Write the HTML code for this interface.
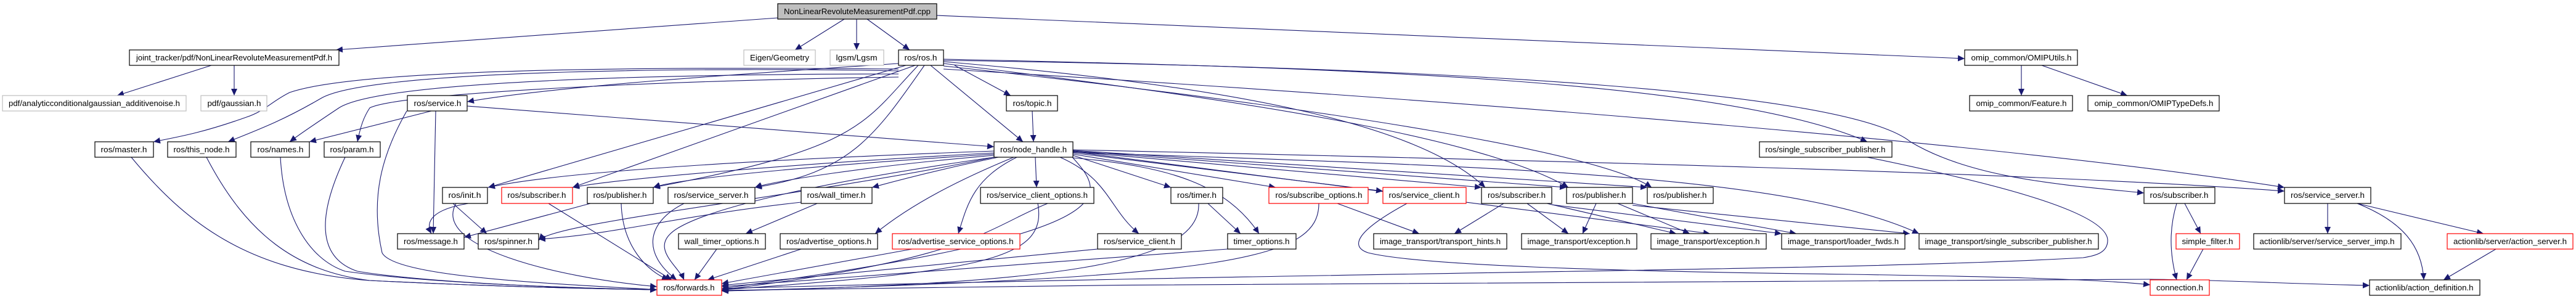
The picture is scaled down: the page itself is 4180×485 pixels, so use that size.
<!DOCTYPE html>
<html><head><meta charset="utf-8"><style>
html,body{margin:0;padding:0;background:#fff;}
svg{display:block;}
text{font-family:"Liberation Sans",Helvetica,sans-serif;font-size:13px;fill:#000;}
.n{fill:#fff;stroke:#000;stroke-width:1.2;}
.g{fill:#fff;stroke:#bfbfbf;stroke-width:1.2;}
.r{fill:#fff;stroke:#ff0000;stroke-width:1.2;}
.t{fill:#bfbfbf;stroke:#000;stroke-width:1.2;}
path.e{fill:none;stroke:#191970;stroke-width:1.1;marker-end:url(#a);}
</style></head><body>
<svg width="4180" height="485" viewBox="0 0 4180 485" xmlns="http://www.w3.org/2000/svg">
<defs><marker id="a" markerUnits="userSpaceOnUse" markerWidth="12" markerHeight="10" refX="11" refY="5" orient="auto"><path d="M0,0 L11,5 L0,10 z" fill="#191970"/></marker></defs>

<g>
<path class="e" d="M1262,29 L545,81"/>
<path class="e" d="M1370,31 L1290,81"/>
<path class="e" d="M1390,31 L1390,81"/>
<path class="e" d="M1407,31 L1476,81"/>
<path class="e" d="M1520,25 L3188,95"/>
<path class="e" d="M343,106 L190,155"/>
<path class="e" d="M380,106 L380,155"/>
<path class="e" d="M3280,106 L3280,155"/>
<path class="e" d="M3313,106 L3452,155"/>
<path class="e" d="M1458,103 C1200,120 900,140 758,165"/>
<path class="e" d="M1458,112 C1200,110 600,105 470,150 C440,165 430,180 400,190 C330,215 290,222 249,230"/>
<path class="e" d="M1458,115 C1200,110 600,110 520,160 C460,195 420,210 370,230"/>
<path class="e" d="M1458,120 C1100,120 620,130 550,175 C520,195 490,215 470,230"/>
<path class="e" d="M1458,125 C1100,130 650,150 600,175 C590,190 585,205 580,230"/>
<path class="e" d="M1549,106 L1640,155"/>
<path class="e" d="M1510,106 L1660,230"/>
<path class="e" d="M1470,106 L792,304"/>
<path class="e" d="M1485,106 L929,304"/>
<path class="e" d="M1490,106 C1400,200 1400,240 1060,304"/>
<path class="e" d="M1500,106 C1420,220 1380,280 1225,304"/>
<path class="e" d="M1531,96 C2200,110 2800,130 3030,230"/>
<path class="e" d="M1531,100 C2000,140 2300,200 2410,304"/>
<path class="e" d="M1531,103 C2000,160 2400,220 2545,304"/>
<path class="e" d="M1531,107 C2200,180 2600,250 2680,304"/>
<path class="e" d="M1531,98 C2400,110 3000,150 3100,230 C3200,290 3350,300 3479,313"/>
<path class="e" d="M1531,112 C2500,170 3300,240 3707,304"/>
<path class="e" d="M700,180 L502,230"/>
<path class="e" d="M758,172 L1613,238"/>
<path class="e" d="M707,180 L703,379"/>
<path class="e" d="M1675,180 L1677,230"/>
<path class="e" d="M660,180 C620,250 600,320 620,410 C640,450 900,460 1066,470"/>
<path class="e" d="M213,255 C300,360 400,440 600,455 C800,465 950,468 1066,470"/>
<path class="e" d="M335,255 C400,380 480,440 600,455 C800,465 950,468 1066,470"/>
<path class="e" d="M455,255 C460,350 500,420 560,440 C700,460 950,468 1066,470"/>
<path class="e" d="M560,255 C510,360 520,420 580,440 C700,460 950,468 1066,470"/>
<path class="e" d="M1613,245 C1200,260 900,280 792,304"/>
<path class="e" d="M1613,248 C1300,265 1000,290 929,304"/>
<path class="e" d="M1613,250 C1300,270 1100,290 1060,304"/>
<path class="e" d="M1613,252 C1400,270 1250,295 1225,304"/>
<path class="e" d="M1620,255 C1500,280 1430,300 1415,304"/>
<path class="e" d="M1645,255 C1560,290 1480,330 1420,379"/>
<path class="e" d="M1650,255 C1580,290 1570,330 1555,379"/>
<path class="e" d="M1680,255 L1682,304"/>
<path class="e" d="M1720,255 C1800,290 1800,340 1848,379"/>
<path class="e" d="M1741,252 L1900,304"/>
<path class="e" d="M1741,256 C1900,270 1990,300 2043,379"/>
<path class="e" d="M1741,250 L2070,304"/>
<path class="e" d="M1741,248 L2244,310"/>
<path class="e" d="M1741,246 L2404,304"/>
<path class="e" d="M1741,245 L2542,304"/>
<path class="e" d="M1741,244 L2673,304"/>
<path class="e" d="M1741,247 C2400,270 2900,280 3114,379"/>
<path class="e" d="M1741,243 C2500,260 3300,280 3707,310"/>
<path class="e" d="M1741,246 L2775,379"/>
<path class="e" d="M1740,255 C1800,320 1830,380 1171,468"/>
<path class="e" d="M1613,255 C1300,300 1150,340 1100,370 C1050,400 1100,430 1110,454"/>
<path class="e" d="M1613,255 C1300,320 900,360 874,390"/>
<path class="e" d="M760,330 C700,340 690,360 700,379"/>
<path class="e" d="M735,330 L790,379"/>
<path class="e" d="M740,330 C700,400 900,450 1066,465"/>
<path class="e" d="M890,330 L1090,454"/>
<path class="e" d="M958,330 L753,385"/>
<path class="e" d="M1008,330 C1010,400 1050,440 1085,454"/>
<path class="e" d="M1110,330 C1050,360 1040,410 1098,454"/>
<path class="e" d="M1326,330 L1210,379"/>
<path class="e" d="M1300,328 C1100,350 1000,380 874,388"/>
<path class="e" d="M1700,330 C1600,370 1580,420 1171,470"/>
<path class="e" d="M1684,330 C1700,420 1600,440 1171,470"/>
<path class="e" d="M1945,330 C1950,430 1700,460 1171,472"/>
<path class="e" d="M1960,330 L2013,379"/>
<path class="e" d="M2140,330 C2140,420 2000,450 1171,472"/>
<path class="e" d="M2170,330 L2303,379"/>
<path class="e" d="M2283,330 C2200,375 2190,400 2220,410 C2300,430 2600,440 3000,445 C3200,448 3400,452 3489,462"/>
<path class="e" d="M2440,330 L2360,379"/>
<path class="e" d="M2478,330 L2545,379"/>
<path class="e" d="M2510,330 L2720,379"/>
<path class="e" d="M2518,332 L2891,379"/>
<path class="e" d="M2590,330 L2568,379"/>
<path class="e" d="M2625,330 L2742,379"/>
<path class="e" d="M2649,330 L2915,379"/>
<path class="e" d="M2649,333 L3099,379"/>
<path class="e" d="M3030,255 C3200,290 3420,340 3420,390 C3420,410 3400,415 3380,418 C3000,440 2200,440 1171,468"/>
<path class="e" d="M3532,330 C3520,370 3520,410 3532,454"/>
<path class="e" d="M3545,330 L3571,379"/>
<path class="e" d="M3575,404 L3548,454"/>
<path class="e" d="M3777,330 L3777,379"/>
<path class="e" d="M3825,330 L4030,379"/>
<path class="e" d="M3825,330 C3900,360 3930,400 3933,454"/>
<path class="e" d="M4050,404 L3965,454"/>
<path class="e" d="M1171,471 C2000,458 3000,452 3489,453 C3600,454 3700,460 3845,463"/>
<path class="e" d="M1163,404 L1127,454"/>
<path class="e" d="M1300,404 L1148,454"/>
<path class="e" d="M1480,404 L1171,460"/>
<path class="e" d="M1781,404 L1171,463"/>
<path class="e" d="M1992,404 L1171,465"/>
</g>

<g>
<rect class="t" x="1262" y="6" width="258" height="25"/><text x="1391" y="23" text-anchor="middle" textLength="238" lengthAdjust="spacingAndGlyphs">NonLinearRevoluteMeasurementPdf.cpp</text>
<rect class="n" x="210" y="81" width="340" height="25"/><text x="380" y="98" text-anchor="middle" textLength="318" lengthAdjust="spacingAndGlyphs">joint_tracker/pdf/NonLinearRevoluteMeasurementPdf.h</text>
<rect class="g" x="1207" y="81" width="116" height="25"/><text x="1265" y="98" text-anchor="middle" textLength="96" lengthAdjust="spacingAndGlyphs">Eigen/Geometry</text>
<rect class="g" x="1347" y="81" width="87" height="25"/><text x="1390" y="98" text-anchor="middle" textLength="67" lengthAdjust="spacingAndGlyphs">lgsm/Lgsm</text>
<rect class="n" x="1458" y="81" width="73" height="25"/><text x="1494" y="98" text-anchor="middle" textLength="53" lengthAdjust="spacingAndGlyphs">ros/ros.h</text>
<rect class="n" x="3188" y="81" width="183" height="25"/><text x="3280" y="98" text-anchor="middle" textLength="163" lengthAdjust="spacingAndGlyphs">omip_common/OMIPUtils.h</text>

<rect class="g" x="4" y="155" width="298" height="25"/><text x="153" y="172" text-anchor="middle" textLength="278" lengthAdjust="spacingAndGlyphs">pdf/analyticconditionalgaussian_additivenoise.h</text>
<rect class="g" x="326" y="155" width="107" height="25"/><text x="380" y="172" text-anchor="middle" textLength="87" lengthAdjust="spacingAndGlyphs">pdf/gaussian.h</text>
<rect class="n" x="661" y="155" width="97" height="25"/><text x="710" y="172" text-anchor="middle" textLength="77" lengthAdjust="spacingAndGlyphs">ros/service.h</text>
<rect class="n" x="1633" y="155" width="83" height="25"/><text x="1675" y="172" text-anchor="middle" textLength="63" lengthAdjust="spacingAndGlyphs">ros/topic.h</text>
<rect class="n" x="3196" y="155" width="167" height="25"/><text x="3280" y="172" text-anchor="middle" textLength="147" lengthAdjust="spacingAndGlyphs">omip_common/Feature.h</text>
<rect class="n" x="3388" y="155" width="213" height="25"/><text x="3495" y="172" text-anchor="middle" textLength="193" lengthAdjust="spacingAndGlyphs">omip_common/OMIPTypeDefs.h</text>

<rect class="n" x="154" y="230" width="95" height="25"/><text x="201" y="247" text-anchor="middle" textLength="75" lengthAdjust="spacingAndGlyphs">ros/master.h</text>
<rect class="n" x="272" y="230" width="111" height="25"/><text x="327" y="247" text-anchor="middle" textLength="91" lengthAdjust="spacingAndGlyphs">ros/this_node.h</text>
<rect class="n" x="407" y="230" width="95" height="25"/><text x="455" y="247" text-anchor="middle" textLength="75" lengthAdjust="spacingAndGlyphs">ros/names.h</text>
<rect class="n" x="526" y="230" width="91" height="25"/><text x="571" y="247" text-anchor="middle" textLength="71" lengthAdjust="spacingAndGlyphs">ros/param.h</text>
<rect class="n" x="1613" y="230" width="128" height="25"/><text x="1677" y="247" text-anchor="middle" textLength="108" lengthAdjust="spacingAndGlyphs">ros/node_handle.h</text>
<rect class="n" x="2855" y="230" width="215" height="25"/><text x="2962" y="247" text-anchor="middle" textLength="195" lengthAdjust="spacingAndGlyphs">ros/single_subscriber_publisher.h</text>

<rect class="n" x="718" y="304" width="73" height="26"/><text x="754" y="321" text-anchor="middle" textLength="53" lengthAdjust="spacingAndGlyphs">ros/init.h</text>
<rect class="r" x="814" y="304" width="115" height="26"/><text x="871" y="321" text-anchor="middle" textLength="95" lengthAdjust="spacingAndGlyphs">ros/subscriber.h</text>
<rect class="n" x="953" y="304" width="107" height="26"/><text x="1006" y="321" text-anchor="middle" textLength="87" lengthAdjust="spacingAndGlyphs">ros/publisher.h</text>
<rect class="n" x="1084" y="304" width="141" height="26"/><text x="1154" y="321" text-anchor="middle" textLength="121" lengthAdjust="spacingAndGlyphs">ros/service_server.h</text>
<rect class="n" x="1300" y="304" width="115" height="26"/><text x="1357" y="321" text-anchor="middle" textLength="95" lengthAdjust="spacingAndGlyphs">ros/wall_timer.h</text>
<rect class="n" x="1591" y="304" width="184" height="26"/><text x="1683" y="321" text-anchor="middle" textLength="164" lengthAdjust="spacingAndGlyphs">ros/service_client_options.h</text>
<rect class="n" x="1900" y="304" width="84" height="26"/><text x="1942" y="321" text-anchor="middle" textLength="64" lengthAdjust="spacingAndGlyphs">ros/timer.h</text>
<rect class="r" x="2059" y="304" width="161" height="26"/><text x="2140" y="321" text-anchor="middle" textLength="141" lengthAdjust="spacingAndGlyphs">ros/subscribe_options.h</text>
<rect class="r" x="2244" y="304" width="135" height="26"/><text x="2311" y="321" text-anchor="middle" textLength="115" lengthAdjust="spacingAndGlyphs">ros/service_client.h</text>
<rect class="n" x="2404" y="304" width="114" height="26"/><text x="2461" y="321" text-anchor="middle" textLength="94" lengthAdjust="spacingAndGlyphs">ros/subscriber.h</text>
<rect class="n" x="2542" y="304" width="107" height="26"/><text x="2595" y="321" text-anchor="middle" textLength="87" lengthAdjust="spacingAndGlyphs">ros/publisher.h</text>
<rect class="n" x="2673" y="304" width="107" height="26"/><text x="2726" y="321" text-anchor="middle" textLength="87" lengthAdjust="spacingAndGlyphs">ros/publisher.h</text>
<rect class="n" x="3479" y="304" width="115" height="26"/><text x="3536" y="321" text-anchor="middle" textLength="95" lengthAdjust="spacingAndGlyphs">ros/subscriber.h</text>
<rect class="n" x="3707" y="304" width="140" height="26"/><text x="3777" y="321" text-anchor="middle" textLength="120" lengthAdjust="spacingAndGlyphs">ros/service_server.h</text>

<rect class="n" x="645" y="379" width="108" height="25"/><text x="699" y="396" text-anchor="middle" textLength="88" lengthAdjust="spacingAndGlyphs">ros/message.h</text>
<rect class="n" x="776" y="379" width="98" height="25"/><text x="825" y="396" text-anchor="middle" textLength="78" lengthAdjust="spacingAndGlyphs">ros/spinner.h</text>
<rect class="n" x="1101" y="379" width="141" height="25"/><text x="1171" y="396" text-anchor="middle" textLength="121" lengthAdjust="spacingAndGlyphs">wall_timer_options.h</text>
<rect class="n" x="1266" y="379" width="158" height="25"/><text x="1345" y="396" text-anchor="middle" textLength="138" lengthAdjust="spacingAndGlyphs">ros/advertise_options.h</text>
<rect class="r" x="1448" y="379" width="207" height="25"/><text x="1551" y="396" text-anchor="middle" textLength="187" lengthAdjust="spacingAndGlyphs">ros/advertise_service_options.h</text>
<rect class="n" x="1781" y="379" width="136" height="25"/><text x="1849" y="396" text-anchor="middle" textLength="116" lengthAdjust="spacingAndGlyphs">ros/service_client.h</text>
<rect class="n" x="1992" y="379" width="111" height="25"/><text x="2047" y="396" text-anchor="middle" textLength="91" lengthAdjust="spacingAndGlyphs">timer_options.h</text>
<rect class="n" x="2229" y="379" width="216" height="25"/><text x="2337" y="396" text-anchor="middle" textLength="196" lengthAdjust="spacingAndGlyphs">image_transport/transport_hints.h</text>
<rect class="n" x="2469" y="379" width="187" height="25"/><text x="2562" y="396" text-anchor="middle" textLength="167" lengthAdjust="spacingAndGlyphs">image_transport/exception.h</text>
<rect class="n" x="2679" y="379" width="187" height="25"/><text x="2772" y="396" text-anchor="middle" textLength="167" lengthAdjust="spacingAndGlyphs">image_transport/exception.h</text>
<rect class="n" x="2891" y="379" width="200" height="25"/><text x="2991" y="396" text-anchor="middle" textLength="180" lengthAdjust="spacingAndGlyphs">image_transport/loader_fwds.h</text>
<rect class="n" x="3114" y="379" width="291" height="25"/><text x="3259" y="396" text-anchor="middle" textLength="271" lengthAdjust="spacingAndGlyphs">image_transport/single_subscriber_publisher.h</text>
<rect class="r" x="3531" y="379" width="103" height="25"/><text x="3582" y="396" text-anchor="middle" textLength="83" lengthAdjust="spacingAndGlyphs">simple_filter.h</text>
<rect class="n" x="3657" y="379" width="239" height="25"/><text x="3776" y="396" text-anchor="middle" textLength="219" lengthAdjust="spacingAndGlyphs">actionlib/server/service_server_imp.h</text>
<rect class="r" x="3971" y="379" width="204" height="25"/><text x="4073" y="396" text-anchor="middle" textLength="184" lengthAdjust="spacingAndGlyphs">actionlib/server/action_server.h</text>

<rect class="r" x="1066" y="454" width="105" height="25"/><text x="1118" y="471" text-anchor="middle" textLength="83" lengthAdjust="spacingAndGlyphs">ros/forwards.h</text>
<rect class="r" x="3489" y="454" width="96" height="25"/><text x="3537" y="471" text-anchor="middle" textLength="76" lengthAdjust="spacingAndGlyphs">connection.h</text>
<rect class="n" x="3845" y="454" width="179" height="25"/><text x="3934" y="471" text-anchor="middle" textLength="159" lengthAdjust="spacingAndGlyphs">actionlib/action_definition.h</text>
</g>
</svg>
</body></html>
